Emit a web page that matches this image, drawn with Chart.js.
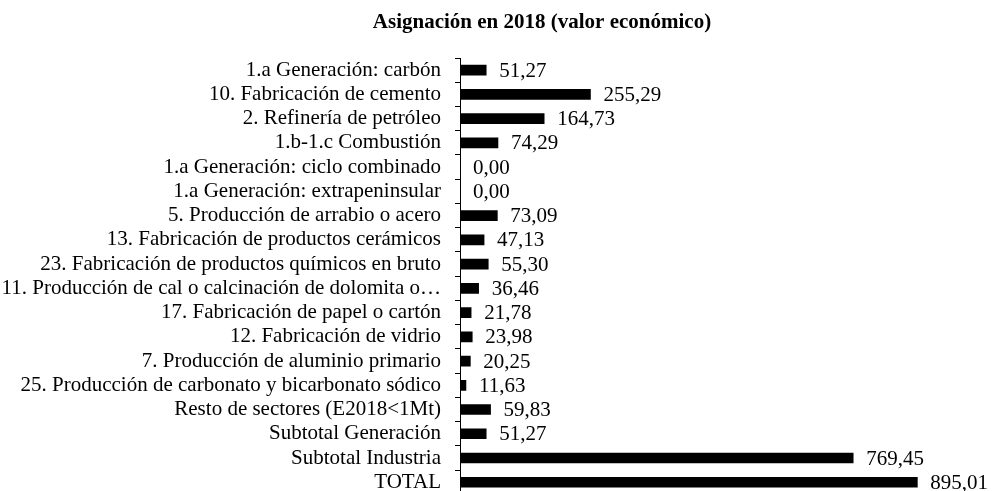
<!DOCTYPE html>
<html lang="es">
<head>
<meta charset="utf-8">
<title>Asignación en 2018 (valor económico)</title>
<script src="https://cdn.jsdelivr.net/npm/chart.js@4/dist/chart.umd.min.js"></script>
<style>
    html, body { margin: 0; padding: 0; background: #fff; overflow: hidden; }
    #wrap { width: 992px; height: 521px; }
</style>
</head>
<body>
<div id="wrap">
    <canvas id="allocChart" width="992" height="521"></canvas>
</div>
<script>
// Chart data
const chartTitle = 'Asignación en 2018 (valor económico)';

const categories = [
    '1.a Generación: carbón',
    '10. Fabricación de cemento',
    '2. Refinería de petróleo',
    '1.b-1.c Combustión',
    '1.a Generación: ciclo combinado',
    '1.a Generación: extrapeninsular',
    '5. Producción de arrabio o acero',
    '13. Fabricación de productos cerámicos',
    '23. Fabricación de productos químicos en bruto',
    '11. Producción de cal o calcinación de dolomita o…',
    '17. Fabricación de papel o cartón',
    '12. Fabricación de vidrio',
    '7. Producción de aluminio primario',
    '25. Producción de carbonato y bicarbonato sódico',
    'Resto de sectores (E2018<1Mt)',
    'Subtotal Generación',
    'Subtotal Industria',
    'TOTAL'
];

const values = [
    51.27, 255.29, 164.73, 74.29, 0.00, 0.00, 73.09, 47.13, 55.30,
    36.46, 21.78, 23.98, 20.25, 11.63, 59.83, 51.27, 769.45, 895.01
];

const xMin = 0;
const xMax = 1000;

const serif = '"Liberation Serif", "Times New Roman", serif';

// Value labels next to each bar + the title
const valueLabels = {
    id: 'valueLabels',
    afterDatasetsDraw(chart) {
        const ctx = chart.ctx;
        const meta = chart.getDatasetMeta(0);
        ctx.save();
        ctx.fillStyle = '#000';
        ctx.font = '21px ' + serif;
        ctx.textAlign = 'left';
        ctx.textBaseline = 'middle';
        meta.data.forEach((bar, i) => {
            const txt = values[i].toFixed(2).replace('.', ',');
            ctx.fillText(txt, bar.x + 13, bar.y + 1);
        });

        // title
        ctx.font = 'bold 21px ' + serif;
        ctx.textAlign = 'center';
        ctx.textBaseline = 'alphabetic';
        ctx.fillText(chartTitle, 542, 28);
        ctx.restore();
    }
};

const ctx = document.getElementById('allocChart').getContext('2d');

const myChart = new Chart(ctx, {
    type: 'bar',
    data: {
        labels: categories,
        datasets: [{
            data: values,
            backgroundColor: '#000',
            borderWidth: 0,
            barThickness: 10
        }]
    },
    options: {
        indexAxis: 'y',
        responsive: false,
        animation: false,
        devicePixelRatio: 1,
        layout: {
            padding: { top: 58, right: 21, bottom: 6, left: 0 }
        },
        plugins: {
            legend: { display: false },
            title: { display: false },
            tooltip: { enabled: false }
        },
        scales: {
            x: {
                display: false,
                min: xMin,
                max: xMax
            },
            y: {
                afterFit(scale) {
                    scale.width = 460; // fixed label column
                },
                border: { display: true, color: '#000', width: 1 },
                grid: {
                    offset: true,
                    drawOnChartArea: false,
                    drawTicks: true,
                    tickLength: 5,
                    color: '#000'
                },
                ticks: {
                    color: '#000',
                    padding: 14,
                    autoSkip: false,
                    font: { family: serif, size: 21 }
                }
            }
        }
    },
    plugins: [valueLabels]
});
</script>
</body>
</html>
